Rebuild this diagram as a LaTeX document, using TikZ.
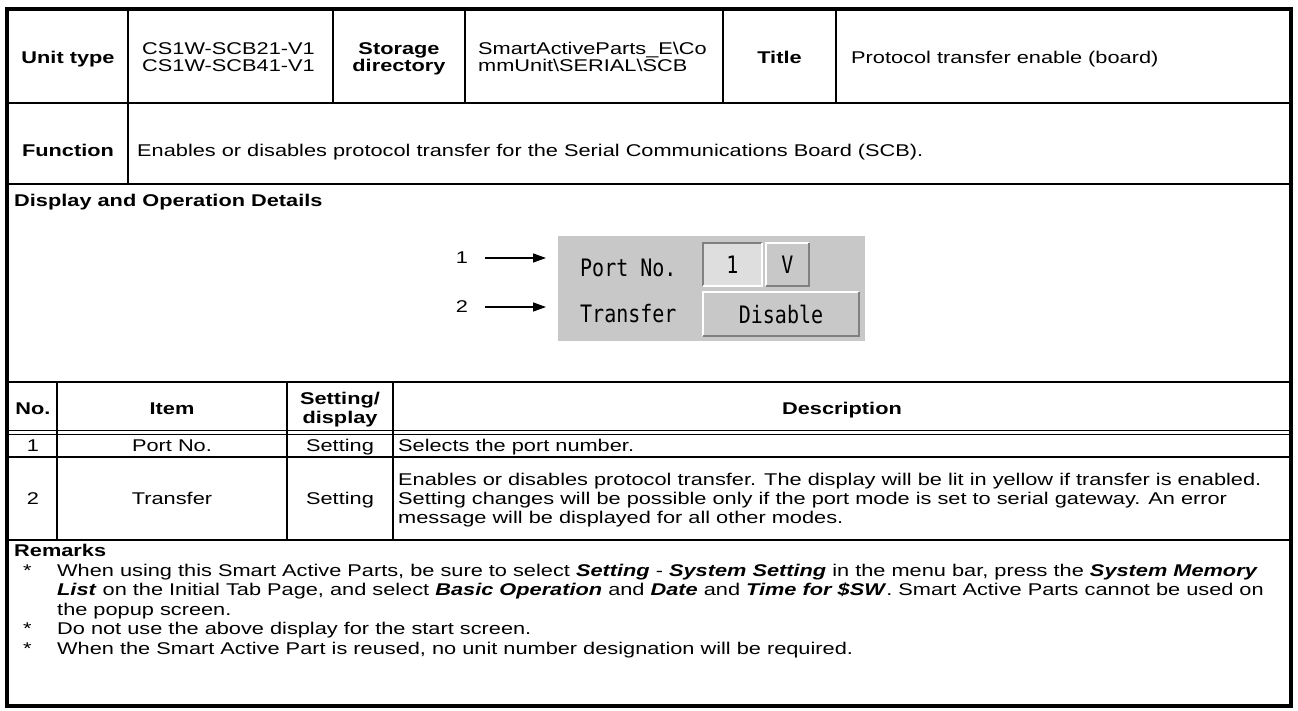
\documentclass[tikz,border=0pt]{standalone}
\usepackage{fontspec}
\usepackage{graphicx}
\setmainfont{Liberation Sans}[FakeStretch=1.28]
\newfontfamily\lcdfont{DejaVu Sans Mono}
\usetikzlibrary{arrows.meta}
\definecolor{panelgray}{RGB}{200,200,200}
\definecolor{fieldgray}{RGB}{222,222,222}
\definecolor{bevdark}{RGB}{128,128,128}
\newcommand{\bi}[1]{\textbf{\textit{#1}}}
\newcommand{\lcdtext}[1]{\scalebox{1}[1.2]{#1}}
\begin{document}
\begin{tikzpicture}[x=1pt,y=-1pt,
  txt/.style={inner sep=0pt, font=\fontsize{17}{18.8}\selectfont},
  hd/.style={inner sep=0pt, font=\fontsize{17}{18.8}\selectfont\bfseries},
  lcd/.style={inner sep=0pt, font=\fontsize{20}{22}\lcdfont},
  frame/.style={line width=4pt},
  grid/.style={line width=1.4pt},
  heavy/.style={line width=2.8pt},
  callout/.style={line width=1.3pt, -{Triangle[length=13pt,width=9pt]}},
  field/.style={fill=fieldgray, inner sep=0pt, lcd},
  btn/.style={fill=panelgray, inner sep=0pt, lcd}]
\useasboundingbox (0,0) rectangle (1298,711);
\fill[white] (0,0) rectangle (1298,711);

% ---------- header rows ----------
\draw[grid] (7,103) -- (1291,103);
\draw[heavy] (7,184) -- (1291,184);
\draw[grid] (128,9) -- (128,184);
\foreach \xx in {333,465,723,836} \draw[grid] (\xx,9) -- (\xx,103);

\node[hd, anchor=base] (ut) at (68,64) {Unit type};
\node[txt, anchor=base west] (ut1) at (142,55) {CS1W-SCB21-V1};
\node[txt, anchor=base west] (ut2) at (142,72) {CS1W-SCB41-V1};
\node[hd, anchor=base] (sd1) at (399,55) {Storage};
\node[hd, anchor=base] (sd2) at (399,72) {directory};
\node[txt, anchor=base west] (dir1) at (478,55) {SmartActiveParts\_E\textbackslash Co};
\node[txt, anchor=base west] (dir2) at (478,72) {mmUnit\textbackslash SERIAL\textbackslash SCB};
\node[hd, anchor=base] (tl) at (779.5,64) {Title};
\node[txt, anchor=base west] (tlv) at (851,64) {Protocol transfer enable (board)};

\node[hd, anchor=base] (fn) at (68,157) {Function};
\node[txt, anchor=base west] (fnv) at (137,157) {Enables or disables protocol transfer for the Serial Communications Board (SCB).};

\node[hd, anchor=base west] (dod) at (14,207) {Display and Operation Details};

% ---------- screen part ----------
\fill[panelgray] (558,236) rectangle (865,341);
\node[lcd, anchor=west] (lport) at (580,268) {\lcdtext{Port No.}};
\node[lcd, anchor=west] (ltr) at (580,314) {\lcdtext{Transfer}};
\node[field, minimum width=59pt, minimum height=43pt] (fone) at (732.5,264.5) {\lcdtext{1}};
\node[btn, minimum width=43pt, minimum height=43pt] (bv) at (787.5,264.5) {\lcdtext{V}};
\node[btn, minimum width=156pt, minimum height=44pt] (bdis) at (781,314) {\lcdtext{Disable}};
% sunken field
\draw[bevdark, line width=2pt] (fone.south west) -- (fone.north west) -- (fone.north east);
\draw[white, line width=2pt] (fone.north east) -- (fone.south east) -- (fone.south west);
% raised buttons
\foreach \b in {bv,bdis} {
  \draw[white, line width=2pt] (\b.south west) -- (\b.north west) -- (\b.north east);
  \draw[bevdark, line width=2pt] (\b.north east) -- (\b.south east) -- (\b.south west);
}

% item callouts
\node[txt] (c1) at (462,258) {1};
\node[txt] (c2) at (462,307) {2};
\coordinate (t1) at (546,258);
\coordinate (t2) at (546,307);
\draw[callout] ([xshift=17pt]c1.east) -- (t1);
\draw[callout] ([xshift=17pt]c2.east) -- (t2);

% ---------- item table ----------
\draw[heavy] (7,382) -- (1291,382);
\draw[line width=1pt] (7,430.5) -- (1291,430.5);
\draw[line width=1pt] (7,434) -- (1291,434);
\draw[grid] (7,457) -- (1291,457);
\draw[grid] (7,540) -- (1291,540);
\foreach \xx in {57,287,393} \draw[grid] (\xx,382) -- (\xx,540);

\node[hd, anchor=base] (hno) at (33,414) {No.};
\node[hd, anchor=base] (hit) at (172,414) {Item};
\node[hd, anchor=base] (hsd1) at (340,404) {Setting/};
\node[hd, anchor=base] (hsd2) at (340,423) {display};
\node[hd, anchor=base] (hde) at (842,414) {Description};

\node[txt, anchor=base] (n1) at (33,451) {1};
\node[txt, anchor=base] (i1) at (172,451) {Port No.};
\node[txt, anchor=base] (s1t) at (340,451) {Setting};
\node[txt, anchor=base west] (d1) at (398,451) {Selects the port number.};

\node[txt, anchor=base] (n2) at (33,504) {2};
\node[txt, anchor=base] (i2) at (172,504) {Transfer};
\node[txt, anchor=base] (s2t) at (340,504) {Setting};
\node[txt, anchor=base west] (d2a) at (398,485) {Enables or disables protocol transfer. The display will be lit in yellow if transfer is enabled.};
\node[txt, anchor=base west] (d2b) at (398,504) {Setting changes will be possible only if the port mode is set to serial gateway. An error};
\node[txt, anchor=base west] (d2c) at (398,523) {message will be displayed for all other modes.};

% ---------- remarks ----------
\node[hd, anchor=base west] (rm) at (14,556) {Remarks};
\node[txt, anchor=base west] (st1) at (23,576) {*};
\node[txt, anchor=base west] (r1a) at (57,576) {When using this Smart Active Parts, be sure to select \bi{Setting} - \bi{System Setting} in the menu bar, press the \bi{System Memory}};
\node[txt, anchor=base west] (r1b) at (57,595.5) {\bi{List} on the Initial Tab Page, and select \bi{Basic Operation} and \bi{Date} and \bi{Time for \$SW}. Smart Active Parts cannot be used on};
\node[txt, anchor=base west] (r1c) at (57,615) {the popup screen.};
\node[txt, anchor=base west] (st2) at (23,634.5) {*};
\node[txt, anchor=base west] (r2) at (57,634.5) {Do not use the above display for the start screen.};
\node[txt, anchor=base west] (st3) at (23,654) {*};
\node[txt, anchor=base west] (r3) at (57,654) {When the Smart Active Part is reused, no unit number designation will be required.};

% outer frame
\draw[frame] (7,9) rectangle (1291,706);
\end{tikzpicture}
\end{document}
